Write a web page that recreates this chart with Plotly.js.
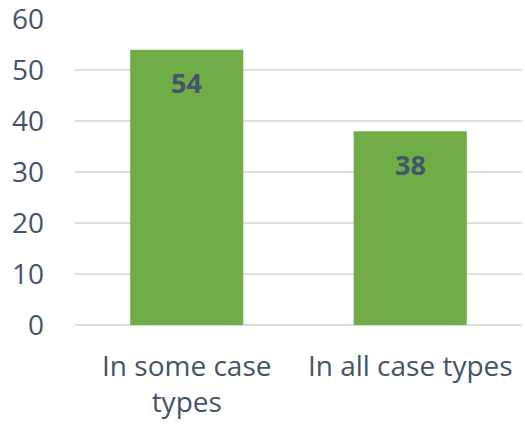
<!DOCTYPE html>
<html><head><meta charset="utf-8">
<script src="https://cdn.plot.ly/plotly-3.0.1.min.js"></script>
<style>html,body{margin:0;padding:0;background:#fff}</style>
</head><body><div id="chart" style="width:525px;height:424px"></div>
<script>
const categories = ["In some case types", "In all case types"];
const tickLabels = ["In some case<br>types", "In all case types"];
const values = [54, 38];
const yTicks = [0, 10, 20, 30, 40, 50, 60];

const textColor = "#44546A";
const trace = {
  type: "bar",
  x: categories,
  y: values,
  marker: {color: "#70AD47", line: {width: 0}},
  hoverinfo: "none"
};
const annotations = categories.map((c, i) => ({
  x: c, y: values[i], xref: "x", yref: "y",
  text: "<b>" + values[i] + "</b>", showarrow: false,
  yshift: -33, font: {family: "Open Sans", size: 27, color: textColor}
}));
const layout = {
  width: 525, height: 424,
  margin: {l: 75, r: 3, t: 19, b: 99},
  paper_bgcolor: "#fff", plot_bgcolor: "#fff",
  bargap: 0.494,
  showlegend: false,
  font: {family: "Open Sans", color: textColor},
  xaxis: {
    tickvals: categories, ticktext: tickLabels,
    tickfont: {size: 28, color: textColor},
    showgrid: false, zeroline: false, showline: false, ticks: "",
    ticklabelstandoff: 22
  },
  yaxis: {
    range: [0, 60.05], tickvals: yTicks,
    tickfont: {size: 28, color: textColor},
    ticklabeloverflow: "allow",
    showgrid: true, gridcolor: "#D9DEE5", gridwidth: 1.5,
    zeroline: true, zerolinecolor: "#D9DEE5", zerolinewidth: 1.5,
    showline: false, ticks: "", ticklabelstandoff: 30
  },
  annotations: annotations
};
Plotly.newPlot("chart", [trace], layout, {displayModeBar: false, staticPlot: true});
</script></body></html>
